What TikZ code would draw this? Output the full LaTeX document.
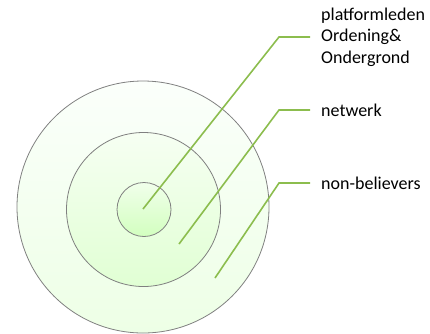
\documentclass[tikz,border=0pt]{standalone}
\usepackage{fontspec}
\setmainfont{Carlito}
\usepackage{xcolor}
\usepackage{tikz}
\usetikzlibrary{positioning, calc}

\definecolor{leafgreen}{HTML}{8CBD4E}
\definecolor{ringgray}{HTML}{808080}

\begin{document}
\begin{tikzpicture}[
    x=1pt, y=-1pt,
    ring/.style={circle, draw=ringgray, line width=0.8pt, inner sep=0pt},
    leader/.style={draw=leafgreen, line width=1.6pt, shorten >=9pt},
    tag/.style={anchor=west, align=left, inner sep=2pt, font=\fontsize{18}{21.5}\selectfont}
]
\useasboundingbox (0,0) rectangle (430,333);

% Three rings, outside in
\node[ring, minimum size=252pt, top color=white!60!green!4, bottom color=green!60!lime!10] (outer) at (143,207) {};
\node[ring, minimum size=154pt, top color=green!60!lime!5, bottom color=green!60!lime!17] (middle) at (143.5,209.5) {};
\node[ring, minimum size=54pt, top color=green!60!lime!8, bottom color=green!60!lime!25] (inner) at (144,209.5) {};

% Labels on the right
\node[tag] (plat) at (319,37) {platformleden\\Ordening\&\\Ondergrond};
\node[tag] (netw) at (319,110) {netwerk};
\node[tag] (nonb) at (319,183) {non-believers};

% Leader ends and knees
\coordinate (p1) at (143,209);
\coordinate (p2) at (179,244);
\coordinate (p3) at (215,278);
\coordinate (k1) at (279,37);
\coordinate (k2) at (279,110);
\coordinate (k3) at (279,183);

% Leader lines
\draw[leader] (p1) -- (k1) -- (plat.west);
\draw[leader] (p2) -- (k2) -- (netw.west);
\draw[leader] (p3) -- (k3) -- (nonb.west);

\end{tikzpicture}
\end{document}
